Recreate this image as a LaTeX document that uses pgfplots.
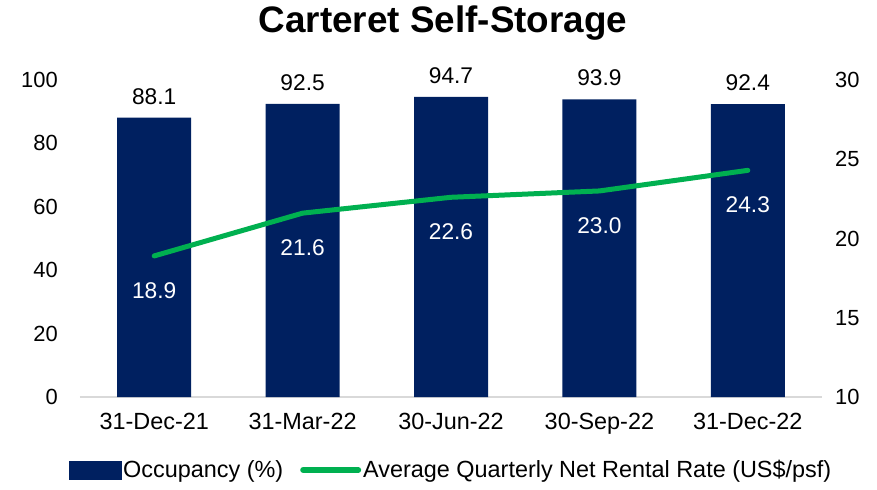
\documentclass[border=0pt]{standalone}
\usepackage{fontspec}
\setmainfont{Liberation Sans}
\usepackage{pgfplots}
\usepackage{pgfplotstable}
\pgfplotsset{compat=1.18}
\definecolor{navy}{HTML}{002060}
\definecolor{xlgreen}{HTML}{00B050}
\definecolor{basegray}{HTML}{D9D9D9}

\pgfplotstableread{
idx occ rate
0 88.1 18.9
1 92.5 21.6
2 94.7 22.6
3 93.9 23.0
4 92.4 24.3
}\datatable

\newcommand{\lblfont}{\fontsize{22}{26}\selectfont}
\newcommand{\catfont}{\fontsize{23.5}{27}\selectfont}
\newcommand{\valfont}{\fontsize{22.8}{27}\selectfont}

\begin{document}
\begin{tikzpicture}
\path[use as bounding box] (-80bp,-93bp) rectangle (797bp,397bp);
\pgfplotsset{
  every axis/.append style={
    scale only axis, width=742bp, height=317bp,
    xmin=-0.5, xmax=4.5,
    /pgf/number format/assume math mode=true,
    tick label style={font=\lblfont},
    clip=false,
  },
}
% occupancy bars, left axis
\begin{axis}[
  ymin=0, ymax=100, ytick={0,20,...,100},
  axis y line*=left, y axis line style={draw=none},
  ytick style={draw=none},
  yticklabel style={inner sep=0pt, xshift=-22bp},
  axis x line*=bottom, x axis line style={draw=basegray, line width=1.5bp},
  xtick={0,...,4},
  xticklabels={31-Dec-21,31-Mar-22,30-Jun-22,30-Sep-22,31-Dec-22},
  xtick style={draw=none},
  xticklabel style={font=\catfont, inner sep=0pt, yshift=-16bp},
  extra x ticks={-0.5,0.5,1.5,2.5,3.5,4.5}, extra x tick labels={},
  extra x tick style={tick style={draw=basegray, line width=1.5bp}, major tick length=7bp, tick align=outside},
  title={Carteret Self-Storage},
  title style={font=\fontsize{37}{41}\selectfont\bfseries, anchor=base, at={(0.5,1)}, yshift=42bp, xshift=-8bp},
]
\addplot[ybar, bar width=74bp, fill=navy, draw=none,
  nodes near coords={\pgfmathprintnumber[fixed,fixed zerofill,precision=1,assume math mode=true]{\pgfplotspointmeta}},
  nodes near coords style={font=\valfont, text=black, anchor=south, inner sep=0pt, yshift=13bp}]
  table[x=idx, y=occ]{\datatable};
\end{axis}
% rental rate line, right axis
\begin{axis}[
  ymin=10, ymax=30, ytick={10,15,...,30},
  axis y line*=right, y axis line style={draw=none},
  ytick style={draw=none},
  yticklabel style={inner sep=0pt, xshift=13bp},
  axis x line=none,
  legend columns=2,
  legend style={draw=none, fill=none, at={(0.5,-0.23)}, anchor=center,
    font=\catfont, nodes={inner sep=2bp},
    /tikz/every even column/.append style={column sep=15bp}},
]
\addlegendimage{legend image code/.code={\fill[navy] (0bp,-9bp) rectangle (52bp,9bp);}}
\addlegendentry{Occupancy (\%)}
\addplot[xlgreen, line width=5bp, line cap=round,
  legend image code/.code={\draw[xlgreen, line width=6bp, line cap=round] (0bp,0bp) -- (55bp,0bp);},
  nodes near coords={\pgfmathprintnumber[fixed,fixed zerofill,precision=1,assume math mode=true]{\pgfplotspointmeta}},
  nodes near coords style={font=\valfont, text=white, anchor=north, inner sep=0pt, yshift=-24bp}]
  table[x=idx, y=rate]{\datatable};
\addlegendentry{Average Quarterly Net Rental Rate (US\$/psf)}
\end{axis}
\end{tikzpicture}
\end{document}
